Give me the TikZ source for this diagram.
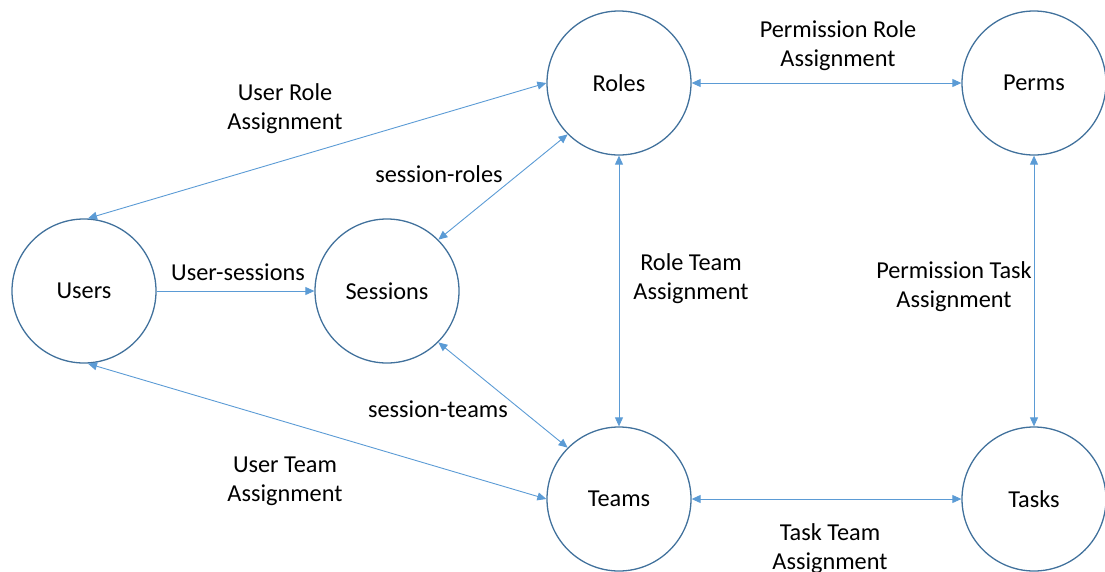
\documentclass[tikz,border=0pt]{standalone}
\usepackage{fontspec}
\setmainfont{Carlito}
\usetikzlibrary{arrows.meta}
\definecolor{ring}{HTML}{41719C}
\definecolor{link}{HTML}{5B9BD5}
\tikzset{
  ent/.style={circle, draw=ring, line width=1.3pt, minimum size=144pt, inner sep=0pt, font=\fontsize{24.3}{29}\selectfont},
  lab/.style={align=center, font=\fontsize{24.3}{29}\selectfont, inner sep=0pt},
  rel/.style={draw=link, line width=0.9pt, {Triangle[length=9pt,width=8pt]}-{Triangle[length=9pt,width=8pt]}},
  relone/.style={draw=link, line width=0.9pt, -{Triangle[length=9pt,width=8pt]}}
}
\begin{document}
\begin{tikzpicture}[x=1pt,y=-1pt]
\useasboundingbox (0,0) rectangle (1105,571);
\clip (0,0) rectangle (1105,571);
\node[ent] (users) at (84,291) {Users};
\node[ent] (sessions) at (387,291) {Sessions};
\node[ent] (roles) at (619,83) {Roles};
\node[ent] (perms) at (1034,83) {Perms};
\node[ent] (teams) at (619,499) {Teams};
\node[ent] (tasks) at (1034,499) {Tasks};

\draw[rel] ([xshift=4pt]users.north) -- (roles.west);
\draw[relone] (users.east) -- (sessions.west);
\draw[rel] ([xshift=4pt]users.south) -- (teams.west);
\draw[rel] (sessions.45) -- (roles.225);
\draw[rel] (sessions.-45) -- (teams.135);
\draw[rel] (roles.south) -- (teams.north);
\draw[rel] (roles.east) -- (perms.west);
\draw[rel] (perms.south) -- (tasks.north);
\draw[rel] (teams.east) -- (tasks.west);

\node[lab] (l1) at (285,109) {User Role\\Assignment};
\node[lab] (l2) at (238,272) {User-sessions};
\node[lab] (l3) at (439,174) {session-roles};
\node[lab] (l4) at (438,409) {session-teams};
\node[lab] (l5) at (285,481) {User Team\\Assignment};
\node[lab] (l6) at (838,46) {Permission Role\\Assignment};
\node[lab] (l7) at (691,279) {Role Team\\Assignment};
\node[lab] (l8) at (954,287) {Permission Task\\Assignment};
\node[lab] (l9) at (830,549) {Task Team\\Assignment};
\end{tikzpicture}
\end{document}
